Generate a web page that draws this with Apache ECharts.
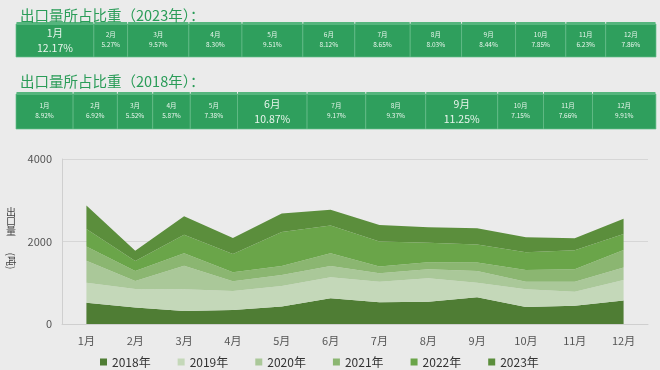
<!DOCTYPE html>
<html><head><meta charset="utf-8">
<script src="https://cdn.jsdelivr.net/npm/echarts@6/dist/echarts.min.js"></script>
<style>html,body{margin:0;padding:0;background:#ebebeb}#c{width:660px;height:370px}</style>
</head><body><div id="c"></div>
<script>
const months = ['1月','2月','3月','4月','5月','6月','7月','8月','9月','10月','11月','12月'];
const share2023 = [12.17, 5.27, 9.57, 8.30, 9.51, 8.12, 8.65, 8.03, 8.44, 7.85, 6.23, 7.86];
const share2018 = [8.92, 6.92, 5.52, 5.87, 7.38, 10.87, 9.17, 9.37, 11.25, 7.15, 7.66, 9.91];
const years = ['2018年','2019年','2020年','2021年','2022年','2023年'];
const v2018 = [513, 398, 317, 338, 424, 625, 527, 539, 647, 411, 440, 570];
const v2019 = [485, 452, 526, 464, 500, 508, 500, 569, 356, 431, 344, 498];
const v2020 = [538, 193, 570, 237, 262, 275, 203, 219, 283, 185, 243, 299];
const v2021 = [342, 241, 303, 213, 220, 307, 161, 170, 202, 283, 300, 429];
const v2022 = [425, 245, 447, 443, 826, 672, 607, 473, 439, 427, 461, 385];
const v2023 = [570, 247, 448, 388, 445, 380, 405, 376, 395, 367, 292, 368];
const yMax = 4000, yStep = 2000;
const titles = ['出口量所占比重（2023年）：', '出口量所占比重（2018年）：'];
const yNameChars = ['出', '口', '量'];
const yNameUnit = '(吨)';

const colors = ['#4f7d34', '#c4d8b9', '#aac899', '#8bb671', '#6aa549', '#5b8e3c'];
const FONT = '"Noto Sans CJK SC", "Noto Sans", sans-serif';

function boxSeries(shares, idx) {
  let acc = 0;
  const data = shares.map((s, i) => { const d = [acc, acc + s, s, i]; acc += s; return d; });
  return {
    type: 'custom', xAxisIndex: idx, yAxisIndex: idx, data: data,
    encode: { x: [0, 1] }, silent: true,
    renderItem: function (params, api) {
      const p0 = api.coord([api.value(0), 1]);
      const p1 = api.coord([api.value(1), 0]);
      const s = api.value(2), i = api.value(3);
      const big = s > 10;
      const x = p0[0], y = p0[1], w = p1[0] - p0[0], h = p1[1] - p0[1];
      const cx = x + w / 2, cy = y + h / 2;
      return { type: 'group', children: [
        { type: 'rect', shape: { x: x, y: y + 2, width: w, height: h - 2 }, style: { fill: '#2f9f5d', stroke: '#66bd8a', lineWidth: 0.7 } },
        { type: 'rect', shape: { x: x + 0.5, y: y, width: w - 1, height: 3 }, style: { fill: '#55b57d' } },
        { type: 'text', style: { text: months[i], x: cx, y: cy + (big ? -6 : -4.5), align: 'center', verticalAlign: 'middle', fill: '#e8f5ec', font: (big ? '10.5px ' : '6.5px ') + FONT } },
        { type: 'text', style: { text: s.toFixed(2) + '%', x: cx, y: cy + (big ? 8.5 : 5), align: 'center', verticalAlign: 'middle', fill: '#e8f5ec', font: (big ? '10.5px ' : '6.5px ') + FONT } }
      ] };
    }
  };
}

const values = [v2018, v2019, v2020, v2021, v2022, v2023];
const areaSeries = years.map((y, k) => ({
  name: y, type: 'line', stack: 'total', data: values[k],
  xAxisIndex: 0, yAxisIndex: 0,
  showSymbol: false, symbol: 'none',
  lineStyle: { width: 0 },
  itemStyle: { color: colors[k] },
  areaStyle: { color: colors[k], opacity: 1 }
}));

const nameGraphics = yNameChars.map((c, i) => ({
  type: 'text', x: 11, y: 212 + i * 9.5,
  style: { text: c, font: '10px ' + FONT, fill: '#444', align: 'center', verticalAlign: 'middle' }
}));
nameGraphics.push({ type: 'text', x: 11, y: 261, rotation: -Math.PI / 2,
  style: { text: yNameUnit, font: '10px ' + FONT, fill: '#444', align: 'center', verticalAlign: 'middle' } });

const chart = echarts.init(document.getElementById('c'), null, { renderer: 'canvas' });
chart.setOption({
  backgroundColor: '#ebebeb',
  animation: false,
  textStyle: { fontFamily: FONT },
  title: [
    { text: titles[0], left: 15, top: 3, textStyle: { fontSize: 14.5, fontWeight: 'normal', color: '#2a9c58', fontFamily: FONT } },
    { text: titles[1], left: 15, top: 69, textStyle: { fontSize: 14.5, fontWeight: 'normal', color: '#2a9c58', fontFamily: FONT } }
  ],
  graphic: nameGraphics,
  legend: {
    data: years, left: 95, top: 351, icon: 'rect', itemWidth: 7, itemHeight: 7, itemGap: 27,
    textStyle: { fontSize: 12, color: '#333', fontFamily: FONT }
  },
  grid: [
    { left: 62, right: 12, top: 159, bottom: 46 },
    { left: 16, right: 4, top: 22, height: 35 },
    { left: 16, right: 4, top: 92, height: 37 }
  ],
  xAxis: [
    { type: 'category', data: months, gridIndex: 0, boundaryGap: true,
      axisLine: { lineStyle: { color: '#cfcfcf' } }, axisTick: { show: false },
      axisLabel: { fontSize: 11, color: '#555', margin: 11, fontFamily: FONT } },
    { type: 'value', gridIndex: 1, min: 0, max: 100, show: false },
    { type: 'value', gridIndex: 2, min: 0, max: 100, show: false }
  ],
  yAxis: [
    { type: 'value', gridIndex: 0, min: 0, max: yMax, interval: yStep,
      axisLine: { show: true, lineStyle: { color: '#cfcfcf' } }, axisTick: { show: false },
      splitLine: { lineStyle: { color: '#d6d6d6' } },
      axisLabel: { fontSize: 11, color: '#555', margin: 10, fontFamily: FONT, formatter: function (v) { return String(v); } } },
    { type: 'value', gridIndex: 1, min: 0, max: 1, show: false },
    { type: 'value', gridIndex: 2, min: 0, max: 1, show: false }
  ],
  series: areaSeries.concat([boxSeries(share2023, 1), boxSeries(share2018, 2)])
});
</script>
</body></html>
